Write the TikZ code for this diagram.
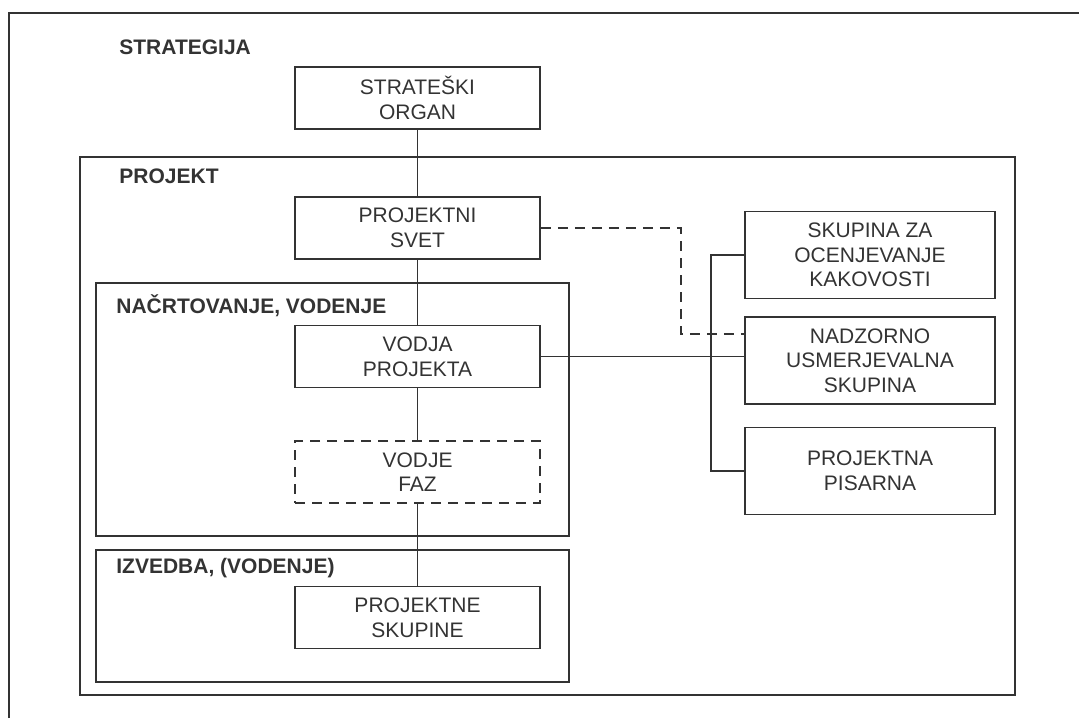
\documentclass[tikz,border=0pt]{standalone}
\usepackage{fontspec}
\setmainfont{Liberation Sans}
\usetikzlibrary{positioning,calc}
\definecolor{ink}{HTML}{333333}
\tikzset{
  unit/.style={draw=ink, line width=0.9pt, text=ink, align=center,
    minimum width=122.5pt, minimum height=31pt, inner sep=0pt,
    font=\fontsize{10.5}{12.3}\selectfont},
  sideunit/.style={unit, minimum width=125pt, minimum height=43.5pt},
  phaseunit/.style={unit, dash pattern=on 5pt off 3.5pt},
  level/.style={anchor=west, text=ink, inner sep=0pt,
    font=\fontsize{10.5}{12}\selectfont\bfseries},
  frame/.style={draw=ink, line width=0.9pt},
  link/.style={draw=ink, line width=0.9pt}
}
\begin{document}
\begin{tikzpicture}[x=0.5pt,y=-0.5pt]
  \useasboundingbox (0,0) rectangle (1079,718);
  \draw [frame] (9,718) -- (9,13) -- (1079,13);
  \draw [frame] (80,157) rectangle (1015,695);
  \draw [frame] (96,283) rectangle (569,536);
  \draw [frame] (96,550) rectangle (569,682);
  \node [level] (lstrat) at (119,47) {STRATEGIJA};
  \node [level] (lproj) at (119,176) {PROJEKT};
  \node [level] (lnacrt) at (116,306) {NAČRTOVANJE, VODENJE};
  \node [level] (lizv) at (116,568) {IZVEDBA, (VODENJE)};
  \node [unit] (organ) at (417.5,98) {STRATEŠKI\\ORGAN};
  \node [unit] (svet) at (417.5,228) {PROJEKTNI\\SVET};
  \node [unit] (vodja) at (417.5,356.5) {VODJA\\PROJEKTA};
  \node [phaseunit] (faze) at (417.5,472) {VODJE\\FAZ};
  \node [unit] (skupine) at (417.5,617.5) {PROJEKTNE\\SKUPINE};
  \node [sideunit] (ocena) at (870,255) {SKUPINA ZA\\OCENJEVANJE\\KAKOVOSTI};
  \node [sideunit] (nadzor) at (870,360.5) {NADZORNO\\USMERJEVALNA\\SKUPINA};
  \node [sideunit] (pisarna) at (870,471) {PROJEKTNA\\PISARNA};
  \coordinate (dashin) at ([yshift=13.25pt]nadzor.west);
  \draw [link] (organ) -- (svet);
  \draw [link] (svet) -- (vodja);
  \draw [link] (vodja) -- (faze);
  \draw [link] (faze) -- (skupine);
  \draw [link] (vodja.east) -- (vodja.east -| nadzor.west);
  \draw [link] (ocena.west) -- ++(-33,0) |- (pisarna.west);
  \draw [link, dash pattern=on 5pt off 3.5pt] (svet.east) -- ++(140,0) |- (dashin);
\end{tikzpicture}
\end{document}
